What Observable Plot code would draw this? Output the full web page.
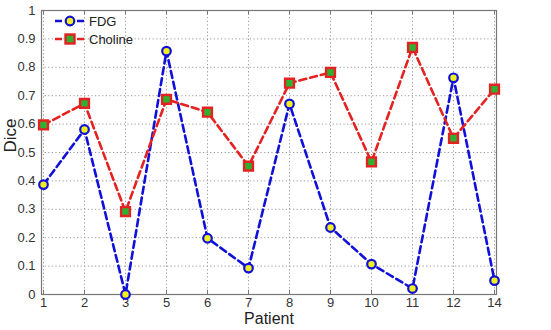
<!DOCTYPE html>
<html><head><meta charset="utf-8">
<script src="https://cdn.jsdelivr.net/npm/d3@7"></script>
<script src="https://cdn.jsdelivr.net/npm/@observablehq/plot@0.6"></script>
<style>
body{margin:0;background:#fff;font-family:"Liberation Sans",Arial,sans-serif;}
#wrap{position:relative;width:551px;height:330px;}
#legend{position:absolute;left:54px;top:12px;font-size:13px;color:#222;}
.row{display:flex;align-items:center;height:18px;}
.row span{margin-left:2px;}
</style></head>
<body><div id="wrap"><div id="legend"></div></div>
<script>
const patients = ["1","2","3","5","6","7","8","9","10","11","12","14"];
const fdg = [0.387,0.581,0.0,0.857,0.198,0.093,0.671,0.236,0.107,0.021,0.763,0.049];
const choline = [0.597,0.673,0.292,0.687,0.642,0.452,0.744,0.782,0.467,0.870,0.550,0.723];
const yTicks = [0,0.1,0.2,0.3,0.4,0.5,0.6,0.7,0.8,0.9,1];

const fdgData = patients.map((p,i)=>({p, v:fdg[i]}));
const chData = patients.map((p,i)=>({p, v:choline[i]}));
const blue = "#1010d8", red = "#e42222";

const chart = Plot.plot({
  width:551, height:330,
  marginLeft:41, marginRight:55, marginTop:10, marginBottom:36,
  style:{fontFamily:"Liberation Sans, Arial, sans-serif", fontSize:"13px", color:"#333", background:"#fff"},
  x:{type:"point", domain:patients, padding:0, label:null},
  y:{domain:[0,1], label:null},
  marks:[
    Plot.gridX(patients,{stroke:"#9a9a9a", strokeOpacity:1, strokeDasharray:"1.2,2.4"}),
    Plot.gridY(yTicks,{stroke:"#9a9a9a", strokeOpacity:1, strokeDasharray:"1.2,2.4"}),
    Plot.frame({stroke:"#777", strokeWidth:1.2}),
    Plot.axisX(patients,{tickSize:0, tickPadding:3, fontSize:13, fill:"#333"}),
    Plot.axisY(yTicks,{tickSize:0, tickPadding:6, fontSize:13, fill:"#333", tickFormat:d=>String(d)}),
    Plot.ruleX(patients,{x:d=>d, y1:0, y2:0.015, stroke:"#777"}),
    Plot.ruleX(patients,{x:d=>d, y1:0.985, y2:1, stroke:"#777"}),
    Plot.line(fdgData,{x:"p", y:"v", stroke:blue, strokeWidth:2.6, strokeDasharray:"7,4"}),
    Plot.line(chData,{x:"p", y:"v", stroke:red, strokeWidth:2.6, strokeDasharray:"7,4"}),
    Plot.dot(fdgData,{x:"p", y:"v", r:4.3, stroke:blue, strokeWidth:2.2, fill:"#f0f020"}),
    Plot.dot(chData,{x:"p", y:"v", symbol:"square", r:5, stroke:red, strokeWidth:2.4, fill:"#30b030"}),
    Plot.text(["Patient"],{frameAnchor:"bottom", dy:29, fontSize:16, fill:"#222"}),
    Plot.text(["Dice"],{frameAnchor:"left", dx:-31, rotate:-90, fontSize:17, fill:"#222"})
  ]
});
document.getElementById("wrap").prepend(chart);

const leg = [["FDG",blue,"circle"],["Choline",red,"square"]];
const L = document.getElementById("legend");
leg.forEach(([name,col,sym])=>{
  const row=document.createElement("div"); row.className="row";
  const mk = sym==="circle"
    ? `<circle cx="16" cy="9" r="4.3" fill="#f0f020" stroke="${col}" stroke-width="2.2"/>`
    : `<rect x="11.5" y="4.5" width="9" height="9" fill="#30b030" stroke="${col}" stroke-width="2.4"/>`;
  row.innerHTML=`<svg width="33" height="18"><line x1="1" x2="32" y1="9" y2="9" stroke="${col}" stroke-width="2.6" stroke-dasharray="7,4"/>${mk}</svg><span>${name}</span>`;
  L.appendChild(row);
});
</script></body></html>
